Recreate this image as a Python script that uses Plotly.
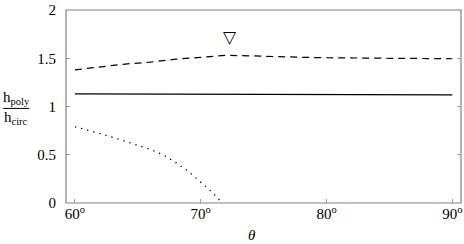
import plotly.graph_objects as go

theta_dash = [60, 62, 64, 66, 68, 70, 72, 74, 76, 78, 80, 85, 90]
ratio_dash = [1.38, 1.41, 1.44, 1.46, 1.49, 1.51, 1.53, 1.525, 1.515, 1.51, 1.505, 1.50, 1.495]

theta_solid = [60, 70, 80, 90]
ratio_solid = [1.13, 1.127, 1.123, 1.12]

theta_dot = [60, 62, 64, 66, 67, 68, 69, 70, 71, 71.7]
ratio_dot = [0.79, 0.72, 0.64, 0.555, 0.50, 0.42, 0.33, 0.22, 0.10, 0.0]

marker_theta = [72.3]
marker_ratio = [1.70]
marker_text = ["▽"]

x_ticks = [60, 70, 80, 90]
x_ticktext = ["60<sup>o</sup>", "70<sup>o</sup>", "80<sup>o</sup>", "90<sup>o</sup>"]
y_ticks = [0, 0.5, 1, 1.5, 2]
y_ticktext = ["0", "0.5", "1", "1.5", "2"]

SERIF = "'Liberation Serif', serif"
font = dict(family=SERIF, size=15, color="black")

fig = go.Figure()
fig.add_trace(go.Scatter(x=theta_dash, y=ratio_dash, mode="lines",
                         line=dict(color="black", width=1.2, dash="7px,5px"), showlegend=False))
fig.add_trace(go.Scatter(x=theta_solid, y=ratio_solid, mode="lines",
                         line=dict(color="black", width=1.2), showlegend=False))
fig.add_trace(go.Scatter(x=theta_dot, y=ratio_dot, mode="lines",
                         line=dict(color="black", width=1.3, dash="1.3px,5px"), showlegend=False))
fig.add_trace(go.Scatter(x=marker_theta, y=marker_ratio, mode="text", text=marker_text,
                         textfont=dict(family="DejaVu Sans", size=17, color="black"),
                         showlegend=False))

fig.update_layout(
    width=464, height=244,
    margin=dict(l=66, r=2, t=5, b=41),
    paper_bgcolor="white", plot_bgcolor="white",
    font=font,
    xaxis=dict(range=[59.29, 90.69], tickvals=x_ticks, ticktext=x_ticktext,
               ticks="inside", ticklen=4, tickcolor="#a0a0a0",
               showline=False, showgrid=False, zeroline=False,
               tickfont=font, ticklabeloverflow="allow", ticklabelstandoff=0),
    yaxis=dict(range=[0, 2], tickvals=y_ticks, ticktext=y_ticktext,
               ticks="inside", ticklen=4, tickcolor="#a0a0a0",
               showline=False, mirror="ticks",
               showgrid=False, zeroline=False, ticklabelstandoff=9,
               tickfont=font, ticklabeloverflow="allow"),
)

fig.add_shape(type="rect", xref="paper", yref="paper", x0=0, x1=1, y0=0, y1=1,
              line=dict(color="#808080", width=1.2), layer="above")

fig.add_annotation(xref="paper", yref="paper", x=0.47, y=-0.165, xanchor="center", yanchor="middle",
                   text="<i>θ</i>", showarrow=False, font=font)
fig.add_annotation(xref="paper", yref="paper", x=-0.126, y=0.545, xanchor="center", yanchor="middle",
                   text="h<sub>poly</sub>", showarrow=False, font=font)
fig.add_annotation(xref="paper", yref="paper", x=-0.126, y=0.44, xanchor="center", yanchor="middle",
                   text="h<sub>circ</sub>", showarrow=False, font=font)
fig.add_shape(type="line", xref="paper", yref="paper", x0=-0.159, x1=-0.093, y0=0.49, y1=0.49,
              line=dict(color="black", width=1))

fig.write_html("out.html", config={"displayModeBar": False},
               post_script="document.body.style.margin='0';document.body.style.overflow='hidden';")
